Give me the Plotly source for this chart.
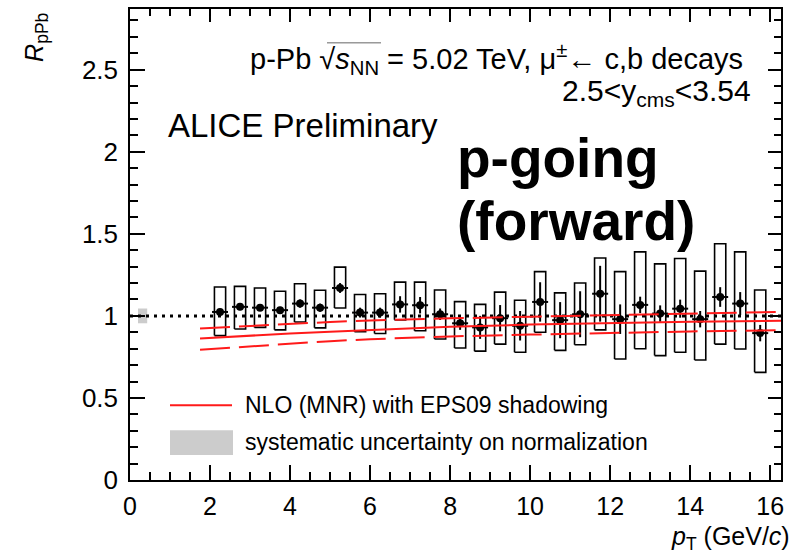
import plotly.graph_objects as go

# ---------------- data ----------------
pt = [2.25, 2.75, 3.25, 3.75, 4.25, 4.75, 5.25, 5.75, 6.25, 6.75, 7.25, 7.75, 8.25, 8.75,
      9.25, 9.75, 10.25, 10.75, 11.25, 11.75, 12.25, 12.75, 13.25, 13.75, 14.25, 14.75, 15.25, 15.75]
rppb = [1.024, 1.055, 1.05, 1.035, 1.075, 1.05, 1.17, 1.02, 1.02, 1.07, 1.065, 1.01, 0.955, 0.93,
        0.986, 0.94, 1.085, 0.974, 1.01, 1.135, 0.98, 1.067, 1.014, 1.044, 0.98, 1.115, 1.075, 0.895]
sys_top = [1.176, 1.18, 1.17, 1.15, 1.196, 1.156, 1.297, 1.13, 1.135, 1.206, 1.206, 1.158, 1.087, 1.07,
           1.145, 1.095, 1.27, 1.14, 1.20, 1.353, 1.27, 1.39, 1.317, 1.35, 1.273, 1.44, 1.39, 1.158]
sys_bot = [0.88, 0.92, 0.93, 0.915, 0.963, 0.927, 1.048, 0.903, 0.893, 0.976, 0.909, 0.859, 0.804, 0.785,
           0.828, 0.778, 0.9, 0.79, 0.824, 0.915, 0.737, 0.80, 0.758, 0.778, 0.731, 0.828, 0.798, 0.656]
stat = [0.02, 0.02, 0.02, 0.02, 0.025, 0.025, 0.03, 0.03, 0.03, 0.05, 0.05, 0.035, 0.04, 0.07,
        0.08, 0.09, 0.12, 0.11, 0.14, 0.17, 0.09, 0.05, 0.05, 0.055, 0.05, 0.06, 0.07, 0.05]
xerr_half = 0.2
box_half = 0.14

# NLO (MNR) + EPS09 curves
nlo_pt = [1.75, 3, 4, 5, 6, 7, 8, 10, 12, 14, 16.27]
nlo_central = [0.862, 0.88, 0.893, 0.904, 0.915, 0.925, 0.934, 0.947, 0.958, 0.965, 0.97]
nlo_upper = [0.923, 0.94, 0.952, 0.963, 0.972, 0.979, 0.985, 0.995, 1.005, 1.015, 1.024]
nlo_lower = [0.794, 0.815, 0.83, 0.846, 0.858, 0.867, 0.875, 0.886, 0.897, 0.905, 0.913]

# normalization uncertainty box
norm_x = [0.2, 0.43]
norm_y = [0.955, 1.045]

x_range = [0, 16.27]
y_range = [0, 2.87]
x_ticks = [0, 2, 4, 6, 8, 10, 12, 14, 16]
y_ticks = [0, 0.5, 1, 1.5, 2, 2.5]
y_ticklabels = ["0", "0.5", "1", "1.5", "2", "2.5"]

FONT = "Liberation Sans, Arial, Helvetica, sans-serif"
RED = "#ff1a1a"

# plot area in pixels
L, R, T, B = 130, 781, 7, 480
W, H = 798, 560


def px(xp):
    return (xp - L) / (R - L)


def py(yp):
    return (B - yp) / (B - T)


fig = go.Figure()

# normalization box
fig.add_trace(go.Scatter(
    x=[norm_x[0], norm_x[1], norm_x[1], norm_x[0], norm_x[0]],
    y=[norm_y[0], norm_y[0], norm_y[1], norm_y[1], norm_y[0]],
    fill="toself", fillcolor="#cccccc", line=dict(width=0), mode="lines",
    hoverinfo="skip", showlegend=False))

# dotted unity line
fig.add_trace(go.Scatter(x=x_range, y=[1, 1], mode="lines",
                         line=dict(color="black", width=3, dash="3px,5px"),
                         hoverinfo="skip", showlegend=False))

# systematic boxes
bx, by = [], []
for x, t, b in zip(pt, sys_top, sys_bot):
    bx += [x - box_half, x + box_half, x + box_half, x - box_half, x - box_half, None]
    by += [b, b, t, t, b, None]
fig.add_trace(go.Scatter(x=bx, y=by, mode="lines", line=dict(color="black", width=1.6),
                         hoverinfo="skip", showlegend=False))

# points
fig.add_trace(go.Scatter(
    x=pt, y=rppb, mode="markers",
    marker=dict(color="black", size=8, symbol="circle"),
    error_x=dict(type="constant", value=xerr_half, color="black", thickness=2, width=0),
    error_y=dict(type="data", array=stat, color="black", thickness=2, width=0),
    showlegend=False))

# NLO curves
fig.add_trace(go.Scatter(x=nlo_pt, y=nlo_upper, mode="lines",
                         line=dict(color=RED, width=2, dash="30px,9px"), showlegend=False))
fig.add_trace(go.Scatter(x=nlo_pt, y=nlo_central, mode="lines",
                         line=dict(color=RED, width=2), showlegend=False))
fig.add_trace(go.Scatter(x=nlo_pt, y=nlo_lower, mode="lines",
                         line=dict(color=RED, width=2, dash="30px,9px"), showlegend=False))

# invisible trace carrying the mirrored (top / right) tick axes
fig.add_trace(go.Scatter(x=x_range, y=y_range, mode="markers", marker=dict(opacity=0),
                         xaxis="x2", yaxis="y2", hoverinfo="skip", showlegend=False))

shapes = [
    # legend line
    dict(type="line", xref="paper", yref="paper", x0=px(170), x1=px(232), y0=py(405), y1=py(405),
         line=dict(color=RED, width=2)),
    # legend gray box
    dict(type="rect", xref="paper", yref="paper", x0=px(170), x1=px(233), y0=py(455), y1=py(430),
         fillcolor="#cccccc", line=dict(width=0)),
    # overline of the square root
    dict(type="line", xref="paper", yref="paper", x0=px(327), x1=px(381), y0=py(41), y1=py(41),
         line=dict(color="#666666", width=1)),
]

ann = []


def add_text(text, xp, yp, size, xanchor="left", yanchor="middle", **kw):
    ann.append(dict(text=text, x=px(xp), y=py(yp), xref="paper", yref="paper",
                    xanchor=xanchor, yanchor=yanchor, showarrow=False,
                    font=dict(family=FONT, size=size, color=kw.pop("color", "black")), **kw))


add_text("p-Pb \u221a<i>s</i><sub>NN</sub> = 5.02 TeV, \u03bc<sup>\u00b1</sup>\u2190 c,b decays", 745, 57, 29,
         xanchor="right")
add_text("2.5&lt;y<sub>cms</sub>&lt;3.54", 753, 91, 30, xanchor="right")
add_text("ALICE Preliminary", 166, 124, 33)
add_text("<b>p-going</b>", 455, 157, 55)
add_text("<b>(forward)</b>", 455, 220, 55)
add_text("NLO (MNR) with EPS09 shadowing", 243, 405, 23)
add_text("systematic uncertainty on normalization", 243, 442, 23)
add_text("<i>p</i><sub>T</sub> (GeV/<i>c</i>)", 792, 538, 25, xanchor="right")
add_text("<i>R</i><sub>pPb</sub>", 36, 36, 25, xanchor="center", textangle=-90)

TW = 1.8
axis_common = dict(showgrid=False, zeroline=False, tickcolor="black", tickwidth=TW)

fig.update_layout(
    width=W, height=H,
    margin=dict(l=L, r=W - R, t=T, b=H - B, pad=0),
    paper_bgcolor="white", plot_bgcolor="white",
    shapes=shapes, annotations=ann,
    showlegend=False,
    font=dict(family=FONT, size=24, color="black"),
    xaxis=dict(range=x_range, tickvals=x_ticks, ticks="inside", ticklen=15,
               showline=True, linecolor="black", linewidth=1.5, mirror=True,
               tickfont=dict(family=FONT, size=25), ticklabelstandoff=3,
               minor=dict(dtick=0.5, tick0=0, ticks="inside", ticklen=8, tickwidth=TW,
                          tickcolor="black", showgrid=False),
               **axis_common),
    yaxis=dict(range=y_range, tickvals=y_ticks, ticktext=y_ticklabels, ticks="inside", ticklen=15,
               showline=True, linecolor="black", linewidth=1.5, mirror=True,
               tickfont=dict(family=FONT, size=26), ticklabelstandoff=5,
               minor=dict(dtick=0.1, tick0=0, ticks="inside", ticklen=8, tickwidth=TW,
                          tickcolor="black", showgrid=False),
               **axis_common),
    xaxis2=dict(range=x_range, overlaying="x", side="top", anchor="y", tickvals=x_ticks, ticks="inside",
                ticklen=13, showticklabels=False, showline=True, linecolor="black", linewidth=1.5,
                minor=dict(dtick=0.5, tick0=0, ticks="inside", ticklen=7, tickwidth=TW,
                           tickcolor="black", showgrid=False),
                **axis_common),
    yaxis2=dict(range=y_range, overlaying="y", side="right", anchor="x", tickvals=y_ticks, ticks="inside",
                ticklen=13, showticklabels=False, showline=True, linecolor="black", linewidth=1.5,
                minor=dict(dtick=0.1, tick0=0, ticks="inside", ticklen=7, tickwidth=TW,
                           tickcolor="black", showgrid=False),
                **axis_common),
)

fig.write_html("out.html")
